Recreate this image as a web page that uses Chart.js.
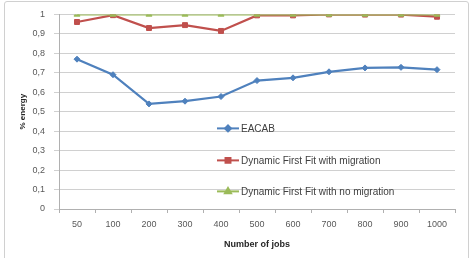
<!DOCTYPE html>
<html><head><meta charset="utf-8">
<script src="https://cdn.jsdelivr.net/npm/chart.js@4/dist/chart.umd.min.js"></script>
<style>
html,body{margin:0;padding:0;background:#fff;}
#wrap{position:relative;width:473px;height:258px;overflow:hidden;}
#frame{position:absolute;left:4px;top:1px;width:465px;height:270px;border:1px solid #d0d0d0;border-radius:3px;box-sizing:border-box;}
canvas{position:absolute;left:0;top:0;}
</style></head>
<body>
<div id="wrap"><div id="frame"></div><canvas id="c" width="473" height="258"></canvas></div>
<script>
const categories = ['50','100','200','300','400','500','600','700','800','900','1000'];
const eacab = [0.77,0.69,0.54,0.554,0.578,0.66,0.674,0.705,0.725,0.728,0.716];
const dffMigration = [0.961,0.996,0.93,0.945,0.915,0.995,0.995,1.0,0.999,0.999,0.988];
const dffNoMigration = [1,1,1,1,1,1,1,1,1,1,1];
const seriesNames = ['EACAB','Dynamic First Fit with migration','Dynamic First Fit with no migration'];
const FONT = '"Liberation Sans", Arial, sans-serif';

const innerLegend = {
  id:'innerLegend',
  afterDraw(chart){
    const ctx = chart.ctx, a = chart.chartArea;
    const x0 = a.left + 158;
    const rows = [a.top + 114, a.top + 146, a.top + 177];
    chart.data.datasets.forEach((ds,i)=>{
      const y = rows[i];
      ctx.save();
      ctx.strokeStyle = ds.borderColor; ctx.lineWidth = 2;
      ctx.beginPath(); ctx.moveTo(x0, y); ctx.lineTo(x0+22, y); ctx.stroke();
      ctx.fillStyle = ds.borderColor;
      Chart.helpers.drawPoint(ctx, {pointStyle: ds.pointStyle, radius: ds.pointRadius, borderWidth:1}, x0+11, y);
      ctx.fillStyle = '#404040';
      ctx.font = '10px ' + FONT;
      ctx.textBaseline = 'middle';
      ctx.fillText(seriesNames[i], x0+24, y+0.5);
      ctx.restore();
    });
  }
};

new Chart(document.getElementById('c'), {
  type:'line',
  data:{
    labels: categories,
    datasets:[
      {label:seriesNames[0], data:eacab, borderColor:'#4f81bd', backgroundColor:'#4f81bd', borderWidth:2.25, pointStyle:'rectRot', pointRadius:3, pointBorderWidth:1, order:2, tension:0},
      {label:seriesNames[1], data:dffMigration, borderColor:'#c0504d', backgroundColor:'#c0504d', borderWidth:2.25, pointStyle:'rect', pointRadius:3.5, pointBorderWidth:1, order:1, tension:0},
      {label:seriesNames[2], data:dffNoMigration, borderColor:'#9bbb59', backgroundColor:'#9bbb59', borderWidth:2.25, pointStyle:'triangle', pointRadius:3.5, pointBorderWidth:1, order:0, tension:0}
    ]
  },
  options:{
    responsive:false, animation:false,
    layout:{padding:{left:0,top:13,right:18,bottom:0}},
    plugins:{legend:{display:false}, tooltip:{enabled:false}},
    scales:{
      x:{
        offset:true,
        grid:{offset:true, drawOnChartArea:false, drawTicks:true, tickLength:4, color:'#b0b0b0'},
        border:{color:'#b0b0b0'},
        ticks:{color:'#595959', font:{size:9, family:FONT}, padding:6, maxRotation:0, autoSkip:false},
        title:{display:true, text:'Number of jobs', color:'#262626', font:{size:9, weight:'bold', family:FONT}, padding:{top:0,bottom:8}},
        afterFit(s){ s.height = 49; }
      },
      y:{
        min:0, max:1,
        grid:{color:'#d0d0d0', tickLength:5, drawTicks:true},
        border:{color:'#b0b0b0'},
        ticks:{stepSize:0.1, color:'#595959', padding:9, font:{size:9, family:FONT},
          callback:(v)=> (Math.round(v*10)/10).toString().replace('.', ',')},
        title:{display:true, text:'% energy', color:'#262626', font:{size:8, weight:'bold', family:FONT}, padding:{top:18,bottom:0}},
        afterFit(s){ s.width = 59; }
      }
    }
  },
  plugins:[innerLegend]
});
</script>
</body></html>
